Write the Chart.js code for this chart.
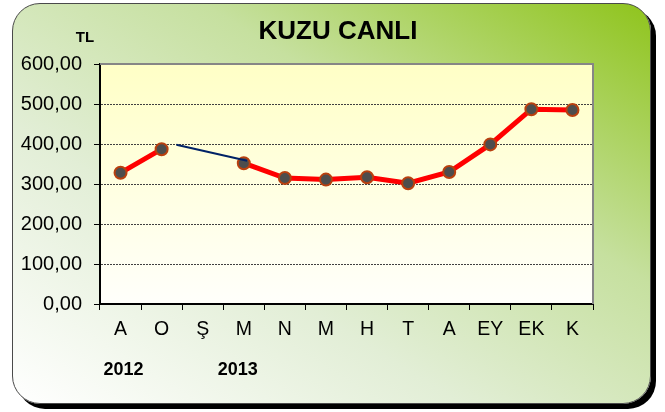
<!DOCTYPE html>
<html>
<head>
<meta charset="utf-8">
<script src="https://cdn.jsdelivr.net/npm/chart.js@4"></script>
<style>
    body { margin: 0; background: #ffffff; }
    #box {
        position: absolute; left: 12px; top: 3px;
        width: 637px; height: 399px;
        border: 1px solid #4a4a4a;
        border-radius: 28px;
        background: linear-gradient(to top right, #ffffff 0%, #e2eed6 35%, #c6e09f 65%, #8fc41c 100%);
        box-shadow: 5px 5px 0 #000000;
    }
    #chart { position: absolute; left: 0; top: 0; }
</style>
</head>
<body>
<div id="box"></div>
<canvas id="chart" width="665" height="412"></canvas>
<script>
// DATOS
const months = ['A', 'O', 'Ş', 'M', 'N', 'M', 'H', 'T', 'A', 'EY', 'EK', 'K'];
const years = ['2012', '', '', '2013', '', '', '', '', '', '', '', ''];
const prices = [328, 387, null, 352, 315, 311, 317, 302, 330, 399, 487, 485];
// linea azul entre O y M
const linkX = [1.36, 3.08];
const linkY = [398, 358];
const yTicks = [0, 100, 200, 300, 400, 500, 600];

const FONT = '"Liberation Sans", Arial, sans-serif';

// fondo del area del grafico + marco + textos
const decor = {
    id: 'decor',
    beforeDraw(chart) {
        const { ctx, chartArea: a } = chart;
        const g = ctx.createLinearGradient(0, a.top, 0, a.bottom);
        g.addColorStop(0, '#ffffc6');
        g.addColorStop(1, '#fffffb');
        ctx.save();
        ctx.fillStyle = g;
        ctx.fillRect(a.left, a.top, a.right - a.left, a.bottom - a.top);
        ctx.restore();
    },
    beforeDatasetsDraw(chart) {
        const { ctx, chartArea: a } = chart;
        ctx.save();
        ctx.strokeStyle = '#868686';
        ctx.lineWidth = 2;
        ctx.beginPath();
        ctx.moveTo(a.left, a.top);
        ctx.lineTo(a.right, a.top);
        ctx.lineTo(a.right, a.bottom);
        ctx.stroke();
        ctx.restore();
    },
    afterDraw(chart) {
        const { ctx } = chart;
        const x = chart.scales.x;
        ctx.save();
        ctx.fillStyle = '#000';
        ctx.textAlign = 'center';
        ctx.textBaseline = 'middle';
        ctx.font = 'bold 26px ' + FONT;
        ctx.fillText('KUZU CANLI', 338, 32);
        ctx.font = 'bold 15px ' + FONT;
        ctx.fillText('TL', 85, 38);
        ctx.font = 'bold 18px ' + FONT;
        years.forEach((y, i) => {
            if (y) ctx.fillText(y, x.getPixelForValue(i) + (i === 0 ? 3 : -6), 370);
        });
        ctx.restore();
    }
};

new Chart(document.getElementById('chart'), {
    type: 'line',
    data: {
        labels: months,
        datasets: [{
            label: 'link',
            xAxisID: 'x2',
            data: linkX.map((v, i) => ({ x: v, y: linkY[i] })),
            borderColor: '#002266',
            borderWidth: 2,
            pointRadius: 0,
            order: 0
        }, {
            label: 'KUZU CANLI',
            data: prices,
            borderColor: '#ff0000',
            borderWidth: 5,
            pointRadius: 6,
            pointBorderWidth: 2,
            pointBackgroundColor: '#4d4d4d',
            pointBorderColor: '#b8400f',
            spanGaps: false,
            order: 1
        }]
    },
    options: {
        responsive: false,
        animation: false,
        layout: { padding: { left: 0, right: 72, top: 64, bottom: 0 } },
        plugins: { legend: { display: false }, tooltip: { enabled: false } },
        scales: {
            x: {
                offset: true,
                afterFit(s) { s.height = 108; },
                grid: { offset: true, drawOnChartArea: false, tickLength: 6, tickColor: '#000' },
                border: { display: true, color: '#000', width: 2 },
                ticks: { color: '#000', padding: 8, font: { family: FONT, size: 19.5 }, maxRotation: 0, autoSkip: false }
            },
            x2: {
                type: 'linear', display: false, min: -0.5, max: 11.5
            },
            y: {
                min: 0, max: 600,
                afterFit(s) { s.width = 100; },
                afterBuildTicks(s) { s.ticks = yTicks.map(v => ({ value: v })); },
                grid: {
                    color: c => (c.tick && (c.tick.value === 0 || c.tick.value === 600)) ? 'rgba(0,0,0,0)' : '#404040',
                    lineWidth: 1,
                    tickLength: 6,
                    tickColor: '#000'
                },
                border: { display: true, color: '#000', width: 2, dash: [2, 1] },
                ticks: {
                    color: '#000', padding: 12,
                    font: { family: FONT, size: 20 },
                    callback: v => v.toFixed(2).replace('.', ',')
                }
            }
        }
    },
    plugins: [decor]
});
</script>
</body>
</html>
